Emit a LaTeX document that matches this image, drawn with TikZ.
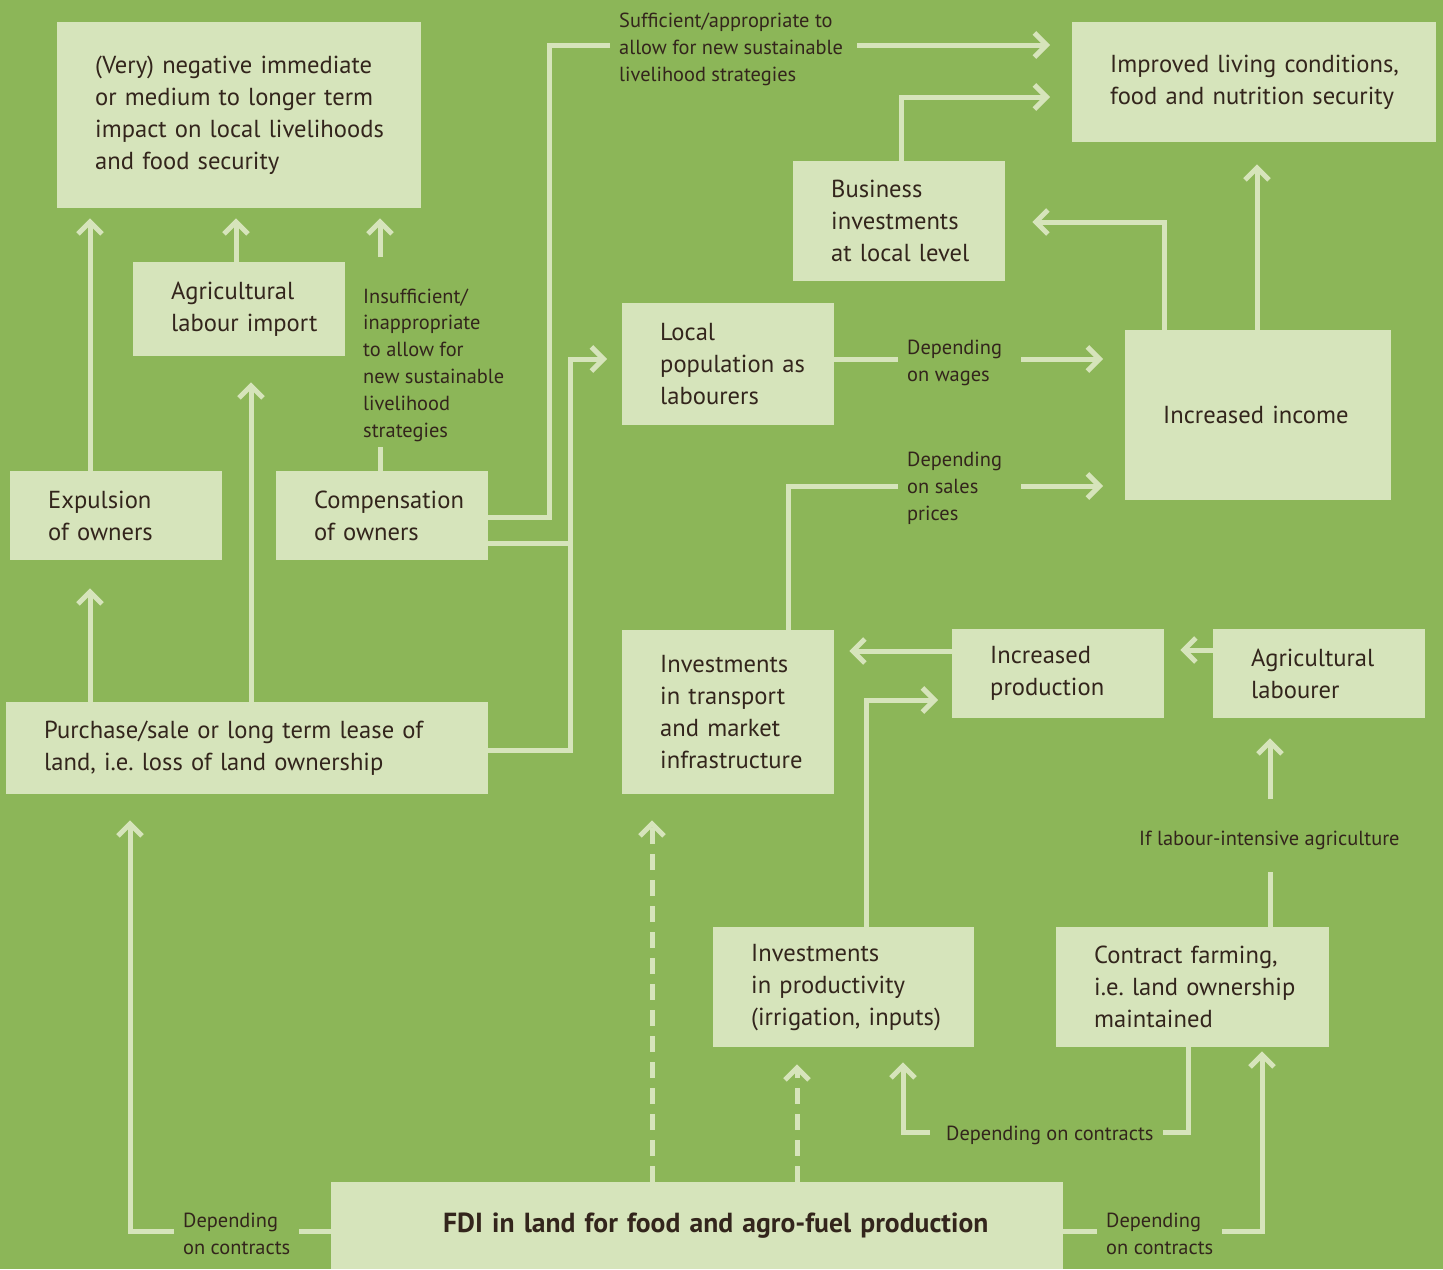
\documentclass[tikz,border=0pt]{standalone}
\usepackage{fontspec}
\setmainfont{PT Sans}
\usepackage{tikz}
\usetikzlibrary{arrows.meta}
\usepackage{xcolor}

\definecolor{bggreen}{RGB}{140,182,88}
\definecolor{boxfill}{RGB}{214,228,187}
\definecolor{ink}{RGB}{51,37,28}
\newcommand{\boxfont}{\fontsize{24.6}{32}\selectfont}
\newcommand{\lblfont}{\fontsize{20.4}{26.8}\selectfont}
\newcommand{\fdifont}{\fontsize{27.6}{32}\selectfont\bfseries}

\begin{document}
\begin{tikzpicture}[x=1pt, y=-1pt,
		box/.style={fill=boxfill, text=ink, font=\boxfont, inner sep=0pt, align=left, anchor=north west, execute at begin node={\leftskip=38pt}},
		lbl/.style={text=ink, font=\lblfont, inner xsep=9pt, inner ysep=5pt, align=left, anchor=base west},
		ln/.style={draw=boxfill, line width=5pt},
		arr/.style={ln, -{Straight Barb[length=12pt,width=24pt]}},
		dashline/.style={dash pattern=on 16pt off 10pt}]
	\useasboundingbox (0,0) rectangle (1443,1269);
	\fill[bggreen] (0,0) rectangle (1443,1269);
	
	% boxes
	\node[box, text width=364pt, minimum height=186pt] (neg) at (57,22) {(Very) negative immediate\\or medium to longer term\\impact on local livelihoods\\and food security};
	\node[box, text width=364pt, minimum height=120pt] (impr) at (1072,22) {Improved living conditions,\\food and nutrition security};
	\node[box, text width=212pt, minimum height=120pt] (bus) at (793,161) {Business\\investments\\at local level};
	\node[box, text width=212pt, minimum height=94pt] (imp) at (133,262) {Agricultural\\labour import};
	\node[box, text width=212pt, minimum height=122pt] (local) at (622,303) {Local\\population as\\labourers};
	\node[box, text width=266pt, minimum height=170pt, align=center, execute at begin node={}] (income) at (1125,330) {Increased income};
	\node[box, text width=212pt, minimum height=89pt] (expul) at (10,471) {Expulsion\\of owners};
	\node[box, text width=212pt, minimum height=89pt] (comp) at (276,471) {Compensation\\of owners};
	\node[box, text width=482pt, minimum height=92pt] (purch) at (6,702) {Purchase/sale or long term lease of\\land, i.e.\ loss of land ownership};
	\node[box, text width=212pt, minimum height=164pt] (trans) at (622,630) {Investments\\in transport\\and market\\infrastructure};
	\node[box, text width=212pt, minimum height=89pt] (prod) at (952,629) {Increased\\production};
	\node[box, text width=212pt, minimum height=89pt] (labr) at (1213,629) {Agricultural\\labourer};
	\node[box, text width=261pt, minimum height=120pt] (invp) at (713,927) {Investments\\in productivity\\(irrigation, inputs)};
	\node[box, text width=273pt, minimum height=120pt] (contr) at (1056,927) {Contract farming,\\i.e.\ land ownership\\maintained};
	\node[box, text width=732pt, minimum height=87pt, font=\fdifont, execute at begin node={\leftskip=112pt}] (fdi) at (331,1182) {FDI in land for food and agro-fuel production};
	
	% labels on the connectors (placed at the baseline of their last line)
	\node[lbl] (suf) at (610,81) {Sufficient/appropriate to\\allow for new sustainable\\livelihood strategies};
	\node[lbl] (insuf) at (354,437) {Insufficient/\\inappropriate\\to allow for\\new sustainable\\livelihood\\strategies};
	\node[lbl] (wages) at (898,381) {Depending\\on wages};
	\node[lbl] (sales) at (898,520) {Depending\\on sales\\prices};
	\node[lbl] (labint) at (1130,845) {If labour-intensive agriculture};
	\node[lbl] (cont) at (937,1140) {Depending on contracts};
	\node[lbl] (lcont) at (174,1254) {Depending\\on contracts};
	\node[lbl] (rcont) at (1097,1254) {Depending\\on contracts};
	
	% left part
	\draw[arr, shorten >=10pt] (expul.north -| 90,0) -- (neg.south -| 90,0);
	\draw[arr, shorten >=10pt] (imp.north -| 236,0) -- (neg.south -| 236,0);
	\draw[ln] (comp.north -| 380,0) -- (insuf.south -| 380,0);
	\draw[arr, shorten <=26pt, shorten >=10pt] (insuf.north -| 380,0) -- (neg.south -| 380,0);
	\draw[arr, shorten >=28pt] (purch.north -| 90,0) -- (expul.south -| 90,0);
	\draw[arr, shorten >=26pt] (purch.north -| 251,0) -- (imp.south -| 251,0);
	\draw[ln] (comp.east |- 0,517) -- ++(61,0) |- (suf.west |- 0,45);
	\draw[arr, shorten <=5pt, shorten >=22pt] (suf.east |- 0,45) -- (impr.west |- 0,45);
	\draw[ln] (comp.east |- 0,543) -- ++(82,0);
	\draw[arr, shorten >=15pt] (purch.east |- 0,750) -- ++(82,0) |- (local.west |- 0,359);
	
	% upper right part
	\draw[arr, shorten >=22pt] (bus.north -| 901,0) |- (impr.west |- 0,97);
	\draw[ln] (local.east |- 0,359) -- (wages.west |- 0,359);
	\draw[arr, shorten <=10pt, shorten >=22pt] (wages.east |- 0,359) -- (income.west |- 0,359);
	\draw[ln] (trans.north -| 788,0) |- (sales.west |- 0,486);
	\draw[arr, shorten <=10pt, shorten >=22pt] (sales.east |- 0,486) -- (income.west |- 0,486);
	\draw[arr, shorten >=27pt] (income.north -| 1164,0) |- (bus.east |- 0,222);
	\draw[arr, shorten >=22pt] (income.north -| 1257,0) -- (impr.south -| 1257,0);
	
	% lower right part
	\draw[arr, shorten >=15pt] (prod.west |- 0,651) -- (trans.east |- 0,651);
	\draw[arr, shorten >=16pt] (labr.west |- 0,650) -- (prod.east |- 0,650);
	\draw[arr, shorten >=14pt] (invp.north -| 866,0) |- (prod.west |- 0,700);
	\draw[ln, shorten >=17pt] (contr.north -| 1270,0) -- (labint.south -| 1270,0);
	\draw[arr, shorten <=26pt, shorten >=20pt] (labint.north -| 1270,0) -- (labr.south -| 1270,0);
	\draw[ln] (contr.south -| 1188,0) |- (cont.east |- 0,1132);
	\draw[arr, shorten <=7pt, shorten >=15pt] (cont.west |- 0,1132) -| (invp.south -| 903,0);
	
	% from the FDI box
	\draw[arr, dashline, shorten >=26pt] (fdi.north -| 652,0) -- (trans.south -| 652,0);
	\draw[arr, dashline, shorten >=17pt] (fdi.north -| 797,0) -- (invp.south -| 797,0);
	\draw[ln] (fdi.west |- 0,1231) -- (lcont.east |- 0,1231);
	\draw[arr, shorten >=26pt] (lcont.west |- 0,1231) -| (purch.south -| 130,0);
	\draw[ln] (fdi.east |- 0,1231) -- (rcont.west |- 0,1231);
	\draw[arr, shorten >=4pt] (rcont.east |- 0,1231) -| (contr.south -| 1262,0);
\end{tikzpicture}
\end{document}
